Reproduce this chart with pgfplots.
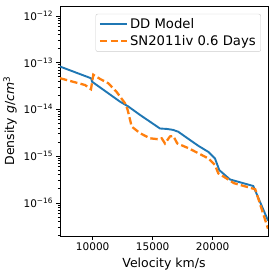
\documentclass[border=0pt]{standalone}
\usepackage{fontspec}
\setmainfont{DejaVu Sans}
\usepackage{pgfplots}
\pgfplotsset{compat=1.18}
\definecolor{mblue}{HTML}{1F77B4}
\definecolor{morange}{HTML}{FF7F0E}
\definecolor{lgray}{HTML}{CCCCCC}
\newcommand{\tp}[1]{10\textsuperscript{\char"2212 #1}}
\begin{document}
\begin{tikzpicture}
\path[use as bounding box] (-60pt,-38pt) rectangle (214pt,236pt);
\begin{axis}[
  at={(0pt,0pt)}, anchor=south west,
  scale only axis, width=208pt, height=230pt,
  ymode=log, xmin=7275, xmax=24610, ymin=1.95e-17, ymax=1.62e-12,
  scaled x ticks=false,
  xtick={10000,15000,20000}, xticklabels={10000,15000,20000},
  ytick={1e-16,1e-15,1e-14,1e-13,1e-12},
  yticklabels={\tp{16},\tp{15},\tp{14},\tp{13},\tp{12}},
  minor ytick={2e-17,3e-17,4e-17,5e-17,6e-17,7e-17,8e-17,9e-17,
    2e-16,3e-16,4e-16,5e-16,6e-16,7e-16,8e-16,9e-16,
    2e-15,3e-15,4e-15,5e-15,6e-15,7e-15,8e-15,9e-15,
    2e-14,3e-14,4e-14,5e-14,6e-14,7e-14,8e-14,9e-14,
    2e-13,3e-13,4e-13,5e-13,6e-13,7e-13,8e-13,9e-13},
  minor xtick={},
  tick align=outside, xtick pos=bottom, ytick pos=left,
  major tick length=3.5pt, minor tick length=2pt,
  tick style={black, line width=0.6pt},
  axis line style={line width=0.6pt},
  ticklabel style={font=\fontsize{10.5}{12}\selectfont},
  xlabel={Velocity km/s},
  ylabel={Density \textit{g}/\textit{cm}\textsuperscript{3}},
  label style={font=\fontsize{12.5}{15}\selectfont},
  legend cell align=left,
  legend style={at={(0.966,0.966)}, anchor=north east, draw=lgray, rounded corners=2pt,
    fill=white, fill opacity=0.8, text opacity=1, font=\fontsize{13.2}{15}\selectfont,
    inner xsep=3pt, inner ysep=2.5pt, row sep=1.5pt},
  legend image code/.code={\draw[#1] (0pt,0pt) -- (27pt,0pt);},
]
\addplot[mblue, line width=1.9pt] coordinates {
(7275,8.22e-14) (9800,4.68e-14) (9880,4.55e-14) (9950,3.89e-14) (12275,1.46e-14)
(12967,1.15e-14) (13942,7.59e-15) (15608,3.89e-15) (16191,3.80e-15) (16700,3.63e-15)
(17133,3.31e-15) (17966,2.34e-15) (18800,1.66e-15) (19633,1.23e-15) (20190,8.91e-16)
(20550,5.01e-16) (21441,3.16e-16) (23383,2.29e-16) (24610,4.17e-17)
};
\addlegendentry{DD Model}
\addplot[morange, line width=2.3pt, dash pattern=on 7.4pt off 3.2pt] coordinates {
(7275,4.63e-14) (9358,3.31e-14) (9858,2.69e-14) (10050,5.50e-14) (10608,4.47e-14)
(11283,3.63e-14) (11967,2.40e-14) (12692,1.35e-14) (12900,1.00e-14) (13250,4.27e-15)
(13942,3.09e-15) (14775,2.40e-15) (15466,2.29e-15) (15750,2.40e-15) (16025,1.86e-15)
(16441,2.63e-15) (16716,2.69e-15) (17050,1.86e-15) (17966,1.48e-15) (18800,1.15e-15)
(19633,8.91e-16) (20190,6.46e-16) (20466,4.27e-16) (20941,3.6e-16) (21775,2.63e-16)
(23550,1.95e-16) (24610,2.8e-17)
};
\addlegendentry{SN2011iv 0.6 Days}
\end{axis}
\end{tikzpicture}
\end{document}
